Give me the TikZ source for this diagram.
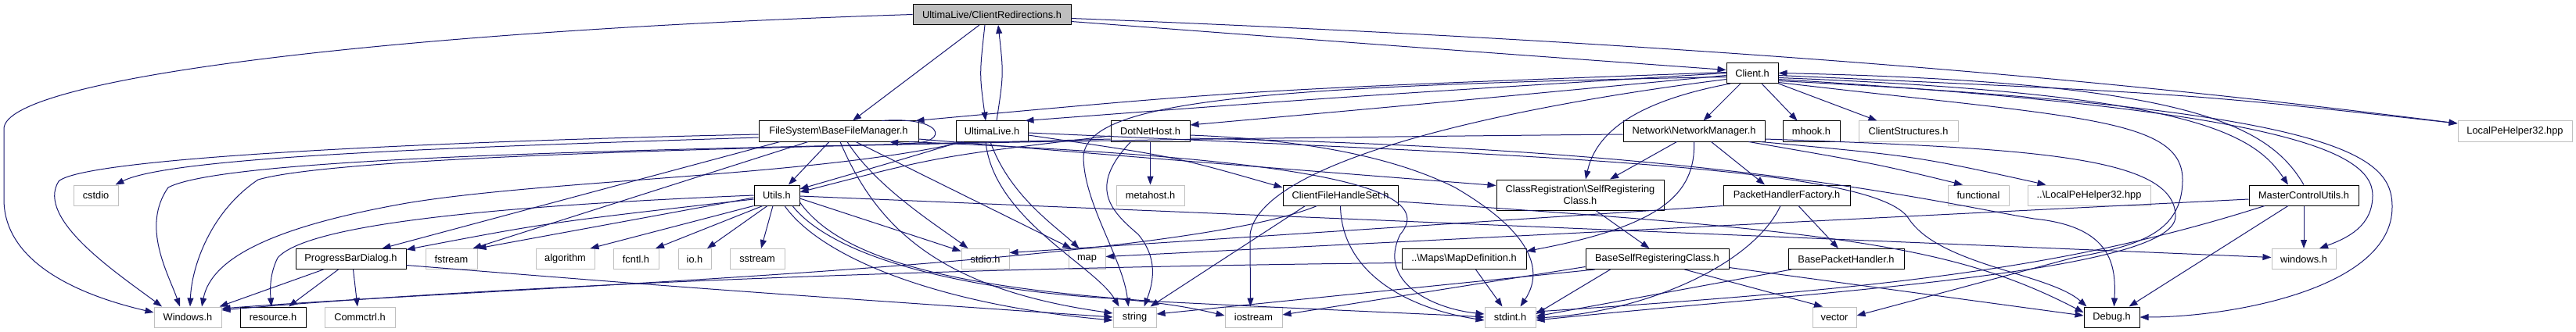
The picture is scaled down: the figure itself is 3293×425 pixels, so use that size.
\documentclass[tikz,border=0pt]{standalone}
\usepackage{fontspec}
\setmainfont{Liberation Sans}
\usetikzlibrary{arrows.meta}
\definecolor{navy}{HTML}{191970}
\definecolor{lgray}{HTML}{BFBFBF}
\tikzset{
  hdr/.style={draw=black, fill=white, line width=1pt, minimum height=26pt, inner sep=0pt,
    font=\fontsize{12.8}{15}\selectfont},
  ext/.style={hdr, draw=lgray},
  root/.style={hdr, fill=lgray},
  dep/.style={draw=navy, line width=1pt, -{Triangle[length=11pt,width=8pt]}}
}
\begin{document}
\begin{tikzpicture}[x=1pt, y=-1pt]
    \useasboundingbox (0,0) rectangle (3293,425);

    % 1. Các tệp tiêu đề
    \node[root, minimum width=202pt] (cr) at (1268,18.5) {UltimaLive/ClientRedirections.h};
    \node[hdr, minimum width=66pt] (client) at (2240,93.5) {Client.h};

    \node[hdr, minimum width=204pt] (bfm) at (1072,168) {FileSystem\textbackslash BaseFileManager.h};
    \node[hdr, minimum width=92pt] (ul) at (1268,168) {UltimaLive.h};
    \node[hdr, minimum width=101pt] (dnh) at (1470.5,168) {DotNetHost.h};
    \node[hdr, minimum width=181pt] (nm) at (2165.5,168) {Network\textbackslash NetworkManager.h};
    \node[hdr, minimum width=73pt] (mhook) at (2315.5,168) {mhook.h};
    \node[ext, minimum width=127pt] (cs) at (2439.5,168) {ClientStructures.h};
    \node[ext, minimum width=146pt] (lph) at (3215,168) {LocalPeHelper32.hpp};

    \node[ext, minimum width=57pt] (cstdio) at (122.5,250) {cstdio};
    \node[hdr, minimum width=58pt] (utils) at (993,250) {Utils.h};
    \node[ext, minimum width=87pt] (metahost) at (1470.5,250) {metahost.h};
    \node[hdr, minimum width=147pt] (cfhs) at (1713.5,250) {ClientFileHandleSet.h};
    \node[hdr, minimum width=214pt, minimum height=39pt, align=center] (src) at (2020,249.5)
        {ClassRegistration\textbackslash SelfRegistering\\Class.h};
    \node[hdr, minimum width=162pt] (phf) at (2284,250) {PacketHandlerFactory.h};
    \node[ext, minimum width=78pt] (functional) at (2529,250) {functional};
    \node[ext, minimum width=157pt] (lph2) at (2670.5,250) {..\textbackslash LocalPeHelper32.hpp};
    \node[hdr, minimum width=140pt] (mcu) at (2945,250) {MasterControlUtils.h};

    \node[hdr, minimum width=141pt] (pbd) at (448.5,331.5) {ProgressBarDialog.h};
    \node[ext, minimum width=66pt] (fstream) at (577,331.5) {fstream};
    \node[ext, minimum width=75pt] (algorithm) at (722.5,331.5) {algorithm};
    \node[ext, minimum width=58pt] (fcntl) at (813,331.5) {fcntl.h};
    \node[ext, minimum width=42pt] (io) at (888,331.5) {io.h};
    \node[ext, minimum width=70pt] (sstream) at (968,331.5) {sstream};
    \node[ext, minimum width=61pt] (stdio) at (1259.5,331.5) {stdio.h};
    \node[ext, minimum width=47pt] (map) at (1389.5,331.5) {map};
    \node[hdr, minimum width=159pt] (mapdef) at (1871.5,331.5) {..\textbackslash Maps\textbackslash MapDefinition.h};
    \node[hdr, minimum width=183pt] (bsrc) at (2118.5,331.5) {BaseSelfRegisteringClass.h};
    \node[hdr, minimum width=148pt] (bph) at (2360,331.5) {BasePacketHandler.h};
    \node[ext, minimum width=82pt] (winlc) at (2945,331.5) {windows.h};

    \node[ext, minimum width=86pt] (winuc) at (240,406) {Windows.h};
    \node[hdr, minimum width=84pt] (resource) at (349,406) {resource.h};
    \node[ext, minimum width=90pt] (commctrl) at (460,406) {Commctrl.h};
    \node[ext, minimum width=55pt] (string) at (1450.5,406) {string};
    \node[ext, minimum width=73pt] (iostream) at (1602.5,406) {iostream};
    \node[ext, minimum width=65pt] (stdint) at (1930.5,406) {stdint.h};
    \node[ext, minimum width=56pt] (vector) at (2345,406) {vector};
    \node[hdr, minimum width=71pt] (debug) at (2699.5,406) {Debug.h};

    % 2. ClientRedirections.h
    \draw[dep] ([yshift=-9pt]cr.east) .. controls (1800,60) .. ([yshift=4pt]client.west);
    \draw[dep] ([yshift=-5pt]cr.east) .. controls (2300,60) and (2800,115) .. ([yshift=10pt]lph.west);
    \draw[dep] (cr.west) .. controls (500,40) and (5,100) .. (5,165) -- (5,255)
        .. controls (5,340) and (110,380) .. ([yshift=6pt]winuc.west);
    \draw[dep] ([xshift=-16pt]cr.south) -- ([xshift=18pt]bfm.north);
    \draw[dep] ([xshift=-9pt]cr.south) .. controls (1252,95) .. ([xshift=-8pt]ul.north);
    \draw[dep] ([xshift=6pt]ul.north) .. controls (1283,95) .. ([xshift=8pt]cr.south);

    % 3. BaseFileManager.h
    \draw[dep] ([xshift=55pt]bfm.north) .. controls (1215,148) and (1215,190) .. ([xshift=65pt]bfm.south);
    \draw[dep] ([xshift=-12pt]bfm.south) -- ([xshift=15pt]utils.north);
    \draw[dep] ([yshift=-4pt]bfm.west) .. controls (600,180) and (110,200) .. (75,232)
        .. controls (45,280) and (150,350) .. ([xshift=-33pt]winuc.north);
    \draw[dep] ([yshift=-8pt]bfm.west) .. controls (600,188) and (220,200) .. ([xshift=-4pt]cstdio.north east);
    \draw[dep] ([xshift=-75pt]bfm.south) -- ([xshift=40pt]pbd.north);
    \draw[dep] ([xshift=-39pt]bfm.south) -- ([xshift=-6pt]fstream.north east);
    \draw[dep] ([xshift=11pt]bfm.south) .. controls (1120,240) and (1200,290) .. ([xshift=-22pt]stdio.north);
    \draw[dep] ([xshift=22pt]bfm.south) -- ([xshift=-20pt]map.north);
    \draw[dep] ([xshift=2pt]bfm.south) .. controls (1120,290) and (1200,370) .. ([yshift=5pt]string.west);
    \draw[dep] ([yshift=-10pt]bfm.east) .. controls (1500,205) .. ([yshift=12pt]src.west);
    \draw[dep] ([xshift=90pt]bfm.south) .. controls (1600,200) and (1850,230) .. (1790,300)
        .. controls (1760,360) and (1830,395) .. ([yshift=4pt]stdint.west);

    % 4. UltimaLive.h
    \draw[dep] ([xshift=-40pt]ul.south) .. controls (1150,205) .. ([yshift=8pt]utils.east);
    \draw[dep] ([xshift=-36pt]ul.south) .. controls (1050,225) and (700,230) .. (520,260)
        .. controls (350,290) and (270,330) .. ([xshift=18pt]winuc.north);
    \draw[dep] ([xshift=-2pt]ul.south) .. controls (1290,250) and (1350,290) .. ([xshift=-10pt]map.north);
    \draw[dep] ([xshift=-8pt]ul.south) .. controls (1270,280) and (1400,340) .. ([xshift=-20pt]string.north);
    \draw[dep] ([yshift=-5pt]ul.east) .. controls (1500,200) .. ([yshift=10pt]cfhs.west);
    \draw[dep] ([yshift=-2pt]ul.east) .. controls (2000,200) and (2400,215) .. (2440,280)
        .. controls (2480,340) and (2620,350) .. ([xshift=-32pt]debug.north);

    % 5. DotNetHost.h
    \draw[dep] (dnh.south) -- (metahost.north);
    \draw[dep] ([yshift=-6pt]dnh.west) .. controls (1200,200) .. ([yshift=4pt]utils.east);
    \draw[dep] ([yshift=-10pt]dnh.west) .. controls (1000,190) and (300,195) .. (215,240)
        .. controls (180,290) and (215,350) .. ([xshift=-10pt]winuc.north);
    \draw[dep] ([xshift=-25pt]dnh.south) .. controls (1390,240) and (1420,270) .. (1455,300)
        .. controls (1480,330) and (1475,360) .. ([xshift=12pt]string.north);
    \draw[dep] ([yshift=-5pt]dnh.east) .. controls (1700,180) and (1800,210) .. (1860,240)
        .. controls (1980,310) and (1965,360) .. ([xshift=13pt]stdint.north);
    \draw[dep] ([yshift=-9pt]dnh.east) .. controls (2200,190) and (2480,260) .. (2600,280)
        .. controls (2700,290) and (2705,340) .. ([xshift=3pt]debug.north);

    % 6. NetworkManager.h
    \draw[dep] ([xshift=-22pt]nm.south) -- ([xshift=38pt]src.north);
    \draw[dep] ([xshift=22pt]nm.south) -- ([xshift=-28pt]phf.north);
    \draw[dep] (nm.south) .. controls (2168,250) and (2120,290) .. ([yshift=10pt]mapdef.east);
    \draw[dep] ([xshift=70pt]nm.south) .. controls (2400,210) .. ([xshift=-20pt]functional.north);
    \draw[dep] ([xshift=85pt]nm.south) .. controls (2450,200) .. ([xshift=-55pt]lph2.north);
    \draw[dep] ([yshift=-10pt]nm.east) .. controls (2600,190) and (2781,200) .. (2781,277)
        .. controls (2780,350) and (2300,375) .. ([yshift=-4pt]stdint.east);
    \draw[dep] ([yshift=-4pt]nm.west) .. controls (1200,180) and (450,195) .. (330,230)
        .. controls (270,270) and (245,340) .. ([xshift=3pt]winuc.north);

    % 7. Client.h
    \draw[dep] ([xshift=-15pt]client.south) -- ([xshift=12pt]nm.north);
    \draw[dep] ([xshift=12pt]client.south) -- ([xshift=-18pt]mhook.north);
    \draw[dep] (client.south east) -- ([xshift=-40pt]cs.north);
    \draw[dep] ([yshift=1pt]client.west) .. controls (1600,115) .. ([xshift=-4pt]bfm.north east);
    \draw[dep] (client.west) .. controls (1700,125) .. ([xshift=-4pt]ul.north east);
    \draw[dep] ([yshift=-3pt]client.west) .. controls (1800,135) .. ([yshift=8pt]dnh.east);
    \draw[dep] ([yshift=-5pt]client.west) .. controls (1600,110) and (1390,130) .. (1385,200)
        .. controls (1385,260) and (1435,330) .. ([xshift=-8pt]string.north);
    \draw[dep] ([yshift=-8pt]client.west) .. controls (1900,140) and (1610,210) .. (1598,300)
        -- ([xshift=-4pt]iostream.north);
    \draw[dep] ([xshift=-28pt]client.south) .. controls (2090,130) and (2040,170) .. ([xshift=7pt]src.north);
    \draw[dep] ([yshift=-3pt]client.east) .. controls (2800,120) .. ([yshift=10pt]lph.west);
    \draw[dep] ([yshift=-6pt]client.east) .. controls (2800,120) and (2880,170) .. ([xshift=-20pt]mcu.north);
    \draw[dep] (mcu.north) .. controls (2900,160) and (2800,105) .. (client.east);
    \draw[dep] ([yshift=-8pt]client.east) .. controls (2900,140) and (3033,190) .. (3033,250)
        .. controls (3033,290) and (3000,305) .. ([xshift=20pt]winlc.north);
    \draw[dep] ([yshift=-10pt]client.east) .. controls (3000,140) and (3058,200) .. (3058,265)
        .. controls (3058,370) and (2850,406) .. (debug.east);
    \draw[dep] ([yshift=-12pt]client.east) .. controls (2650,150) and (2790,150) .. (2790,230)
        .. controls (2790,300) and (2730,315) .. (2650,330) -- ([yshift=2pt]vector.east);

    % 8. MasterControlUtils.h
    \draw[dep] (mcu.south) -- (winlc.north);
    \draw[dep] ([xshift=-20pt]mcu.south) -- ([xshift=22pt]debug.north);
    \draw[dep] ([yshift=-5pt]mcu.west) -- ([yshift=3pt]map.east);
    \draw[dep] ([xshift=-50pt]mcu.south) .. controls (2640,345) and (2400,370) .. ([yshift=7pt]stdint.east);

    % 9. Utils.h
    \draw[dep] (utils.south west) -- ([xshift=-6pt]algorithm.north east);
    \draw[dep] ([xshift=-18pt]utils.south) -- ([xshift=25pt]fcntl.north);
    \draw[dep] ([xshift=-12pt]utils.south) -- ([xshift=16pt]io.north);
    \draw[dep] ([xshift=-5pt]utils.south) -- ([xshift=5pt]sstream.north);
    \draw[dep] ([yshift=-3pt]utils.west) -- (fstream.north east);
    \draw[dep] ([yshift=-5pt]utils.west) .. controls (700,285) .. ([yshift=12pt]pbd.east);
    \draw[dep] (utils.west) .. controls (600,265) and (390,290) .. (355,330)
        .. controls (345,350) and (345,370) .. ([xshift=-2pt]resource.north);
    \draw[dep] ([yshift=-4pt]utils.east) -- ([yshift=10pt]stdio.west);
    \draw[dep] ([xshift=10pt]utils.south) .. controls (1050,330) and (1200,390) .. ([yshift=-4pt]string.west);
    \draw[dep] ([xshift=20pt]utils.south) .. controls (1070,335) and (1250,372) .. (1420,382)
        .. controls (1500,388) and (1540,398) .. ([yshift=2pt]iostream.west);
    \draw[dep] ([yshift=-9pt]utils.east) .. controls (1080,340) and (1250,370) .. (1480,386)
        .. controls (1700,397) and (1850,403) .. (stdint.west);
    \draw[dep] ([yshift=-1pt]utils.east) -- ([yshift=2pt]winlc.west);

    % 10. ClientFileHandleSet.h, MapDefinition.h, SelfRegisteringClass.h
    \draw[dep] ([xshift=-30pt]cfhs.south) .. controls (1500,340) and (600,370) .. ([yshift=11pt]winuc.east);
    \draw[dep] ([xshift=-45pt]cfhs.south) -- ([xshift=20pt]string.north);
    \draw[dep] (cfhs.south) .. controls (1715,350) and (1800,395) .. ([yshift=-4pt]stdint.west);
    \draw[dep] ([yshift=-8pt]cfhs.east) .. controls (2350,295) and (2500,315) .. ([yshift=6pt]debug.west);
    \draw[dep] ([yshift=-5pt]mapdef.west) .. controls (1000,345) and (500,378) .. ([yshift=9pt]winuc.east);
    \draw[dep] ([xshift=15pt]mapdef.south) -- ([xshift=-10pt]stdint.north);
    \draw[dep] ([xshift=20pt]src.south) -- ([xshift=-10pt]bsrc.north);

    % 11. BaseSelfRegisteringClass.h, PacketHandlerFactory.h
    \draw[dep] ([yshift=-10pt]bsrc.west) -- ([yshift=3pt]iostream.east);
    \draw[dep] ([xshift=-80pt]bsrc.south) -- ([yshift=4pt]string.east);
    \draw[dep] ([xshift=-60pt]bsrc.south) -- ([yshift=4pt]stdint.east);
    \draw[dep] ([xshift=35pt]bsrc.south) -- ([xshift=-15pt]vector.north);
    \draw[dep] ([yshift=-11pt]bsrc.east) -- ([yshift=2pt]debug.west);
    \draw[dep] ([xshift=15pt]phf.south) -- ([xshift=-10pt]bph.north);
    \draw[dep] ([xshift=-8pt]phf.south) .. controls (2240,340) and (2100,400) .. ([yshift=-1pt]stdint.east);
    \draw[dep] (phf.south west) -- ([yshift=8pt]stdio.east);
    \draw[dep] ([xshift=-70pt]bph.south) -- ([yshift=1pt]stdint.east);

    % 12. ProgressBarDialog.h
    \draw[dep] ([xshift=-35pt]pbd.south) -- ([xshift=-3pt]winuc.north east);
    \draw[dep] ([xshift=-16pt]pbd.south) -- ([xshift=20pt]resource.north);
    \draw[dep] ([xshift=3pt]pbd.south) -- ([xshift=-3pt]commctrl.north);
    \draw[dep] ([yshift=-8pt]pbd.east) .. controls (900,370) .. (string.west);

\end{tikzpicture}
\end{document}
